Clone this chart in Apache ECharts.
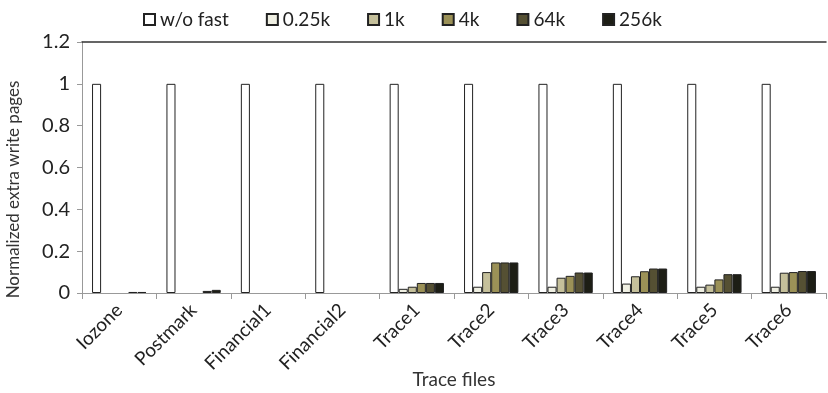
<!DOCTYPE html>
<html><head><meta charset="utf-8">
<script src="https://cdn.jsdelivr.net/npm/echarts@6/dist/echarts.min.js"></script>
<style>html,body{margin:0;padding:0;background:#fff}#c{width:828px;height:393px}</style>
</head><body><div id="c"></div>
<script>
const categories = ['Iozone','Postmark','Financial1','Financial2','Trace1','Trace2','Trace3','Trace4','Trace5','Trace6'];
const seriesNames = ['w/o fast','0.25k','1k','4k','64k','256k'];
const woFast = [1,1,1,1,1,1,1,1,1,1];
const k025 = [0,0,0,0,0.02,0.03,0.03,0.045,0.03,0.03];
const k1 = [0,0,0,0,0.03,0.1,0.073,0.08,0.04,0.097];
const k4 = [0,0,0,0,0.048,0.146,0.082,0.104,0.065,0.1];
const k64 = [0.005,0.01,0,0,0.048,0.146,0.098,0.117,0.09,0.105];
const k256 = [0.005,0.015,0,0,0.048,0.146,0.098,0.117,0.09,0.105];
const yTicks = [0,0.2,0.4,0.6,0.8,1,1.2];
const colors = ['#ffffff','#efefe2','#c5c09b','#9b9157','#555033','#1d1e15'];
const values = [woFast,k025,k1,k4,k64,k256];
const font = 'Lato';
const chart = echarts.init(document.getElementById('c'), null, {renderer:'canvas'});
chart.setOption({
  animation:false,
  textStyle:{fontFamily:font},
  legend:{
    top:5,left:138,itemWidth:11,itemHeight:11,itemGap:37,
    icon:'rect',
    textStyle:{fontFamily:font,fontSize:19,color:'#222'},
    data:seriesNames
  },
  grid:{left:82,right:2,top:42,bottom:100,containLabel:false,outerBoundsMode:'none'},
  xAxis:[{
    type:'category',data:categories,
    axisLine:{lineStyle:{color:'#999',width:1}},
    axisTick:{show:true,length:6,alignWithLabel:false,lineStyle:{color:'#999'}},
    axisLabel:{rotate:45,fontSize:19,color:'#222',margin:14,interval:0},
    name:'Trace files',nameLocation:'middle',nameGap:77,nameMoveOverlap:false,
    nameTextStyle:{fontSize:19,color:'#333'}
  },{
    type:'category',position:'top',data:categories,
    axisLine:{show:true,lineStyle:{color:'#333',width:1.5}},
    axisTick:{show:false},axisLabel:{show:false}
  }],
  yAxis:{
    type:'value',min:0,max:1.2,interval:0.2,
    axisLine:{show:true,lineStyle:{color:'#999'}},
    axisTick:{show:true,length:5,lineStyle:{color:'#999'}},
    splitLine:{show:false},
    axisLabel:{fontSize:20,color:'#222',margin:12,formatter:v=>{const t=yTicks.find(x=>Math.abs(x-v)<1e-9);return String(t!==undefined?t:v);}},
    name:'Normalized extra write pages',nameLocation:'middle',nameGap:60,nameMoveOverlap:false,
    nameTextStyle:{fontSize:17,color:'#333',padding:[0,44,0,0]}
  },
  series:seriesNames.map((n,i)=>({
    name:n,type:'bar',data:values[i].map(v=>v===0?'-':v),
    barGap:'0%',barCategoryGap:'27%',
    itemStyle:{color:colors[i],borderColor:'#222',borderWidth:1}
  }))
});
</script></body></html>
